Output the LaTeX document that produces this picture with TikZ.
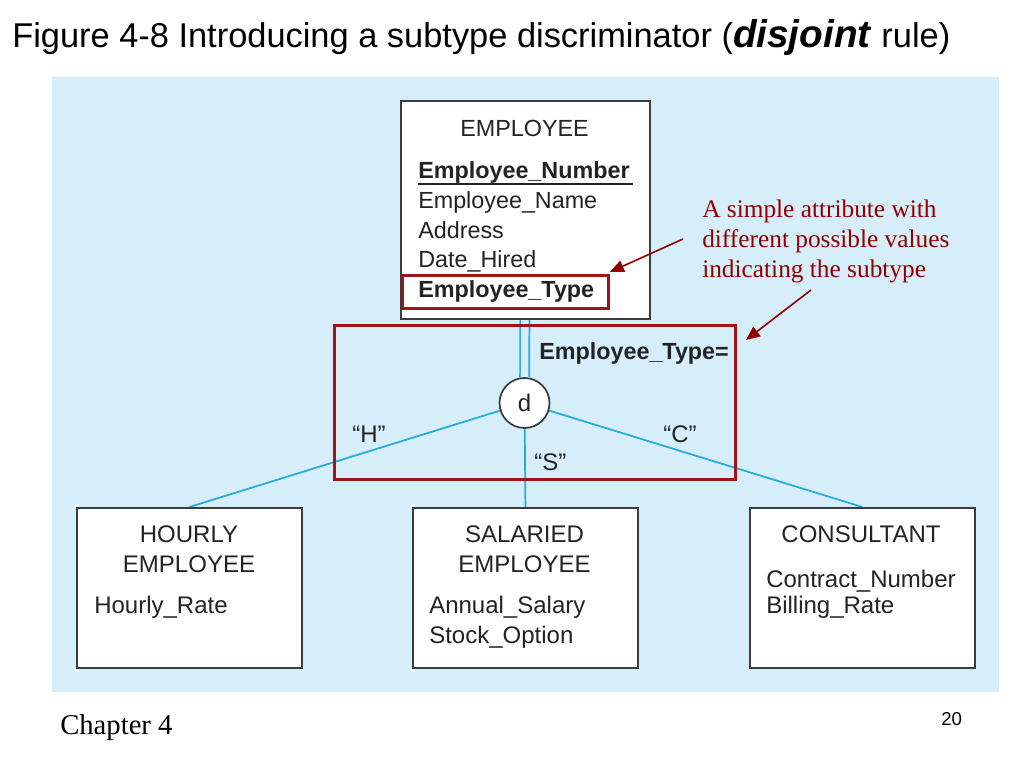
\documentclass[tikz,border=0pt]{standalone}
\usepackage{fontspec}
\setmainfont{Liberation Serif}
\setsansfont{Liberation Sans}
\usetikzlibrary{arrows.meta}
\definecolor{bgblue}{RGB}{214,238,250}
\definecolor{lineblue}{RGB}{35,170,225}
\definecolor{darkred}{RGB}{160,20,25}
\definecolor{annred}{RGB}{145,0,0}
\definecolor{boxgray}{RGB}{60,60,60}
\definecolor{txtgray}{RGB}{35,35,35}
\pgfdeclarelayer{back}
\pgfdeclarelayer{links}
\pgfsetlayers{back,links,main}
\begin{document}
\begin{tikzpicture}[x=0.75pt,y=-0.75pt,
  ent/.style={draw=boxgray, line width=1.4pt, fill=white, anchor=north west, inner sep=0pt},
  subent/.style={ent, minimum width=168.75pt, minimum height=120pt},
  attr/.style={anchor=base west, inner sep=0pt, text=txtgray, font=\sffamily\fontsize{17.5}{20}\selectfont},
  attrb/.style={attr, font=\sffamily\bfseries\fontsize{17.5}{20}\selectfont},
  ename/.style={anchor=base, inner sep=0pt, text=txtgray, font=\sffamily\fontsize{17.5}{20}\selectfont},
  sattr/.style={anchor=base west, inner sep=0pt, text=txtgray, font=\sffamily\fontsize{18}{20}\selectfont},
  sname/.style={anchor=base, inner sep=0pt, text=txtgray, font=\sffamily\fontsize{18}{20}\selectfont},
  redbox/.style={draw=darkred, line width=2.2pt, anchor=north west, inner sep=0pt},
  link/.style={draw=lineblue, line width=1.3pt},
  note/.style={anchor=base west, inner sep=0pt, text=annred, font=\rmfamily\fontsize{19}{22}\selectfont},
  notearrow/.style={draw=annred, line width=1.2pt, -{Triangle[length=10.5pt,width=9pt]}}
]
\useasboundingbox (0,0) rectangle (1024,768);
\begin{pgfonlayer}{back}
  \fill[white] (0,0) rectangle (1024,768);
  \fill[bgblue] (52,77) rectangle (999,692);
\end{pgfonlayer}

% title
\node[anchor=base west, inner sep=0pt, font=\sffamily\fontsize{25.8}{30}\selectfont] (title) at (12,47)
  {Figure 4-8 Introducing a subtype discriminator (\textbf{\textit{\fontsize{29}{30}\selectfont disjoint}} rule)};

% supertype
\node[ent, minimum width=186.75pt, minimum height=163.5pt] (emp) at (400,100) {};
\node[ename] (empname) at (524.5,136) {EMPLOYEE};
\node[attrb] (enum) at (418,178) {Employee\_Number};
\draw[txtgray, line width=1pt] (enum.south west |- 0,184) coordinate (ul1) -- (633,184) coordinate (ul2);
\node[attr] (ename2) at (418,208) {Employee\_Name};
\node[attr] (eaddr) at (418,238) {Address};
\node[attr] (edate) at (418,267) {Date\_Hired};
\node[attrb] (etype) at (418,297) {Employee\_Type};
\node[redbox, minimum width=154.5pt, minimum height=24.75pt] (typebox) at (401,274) {};

% discriminator
\node[circle, draw=boxgray, line width=1.3pt, fill=white, minimum size=37.5pt, inner sep=0pt,
      font=\sffamily\fontsize{18}{20}\selectfont, text=txtgray] (d) at (524.5,403) {d};
\node[attrb] (disc) at (539,359) {Employee\_Type=};
\node[redbox, minimum width=300.75pt, minimum height=115.5pt] (discbox) at (333,324) {};
\node[attr, font=\sffamily\fontsize{18}{20}\selectfont] (qh) at (352,442) {“H”};
\node[attr, font=\sffamily\fontsize{18}{20}\selectfont] (qs) at (534,470) {“S”};
\node[attr, font=\sffamily\fontsize{18}{20}\selectfont] (qc) at (663,442) {“C”};

% subtypes
\node[subent] (hourly) at (76,507) {};
\node[sname] (h1) at (189,542) {HOURLY};
\node[sname] (h2) at (189,572) {EMPLOYEE};
\node[sattr] (h3) at (94,613) {Hourly\_Rate};

\node[subent] (salaried) at (412,507) {};
\node[sname] (s1) at (524.5,542) {SALARIED};
\node[sname] (s2) at (524.5,572) {EMPLOYEE};
\node[sattr] (s3) at (429,613) {Annual\_Salary};
\node[sattr] (s4) at (429,643) {Stock\_Option};

\node[subent] (consultant) at (749,507) {};
\node[sname] (c1) at (861,542) {CONSULTANT};
\node[sattr] (c2) at (766,587) {Contract\_Number};
\node[sattr] (c3) at (766,613) {Billing\_Rate};

% connectors
\begin{pgfonlayer}{links}
  \draw[link, double=bgblue, double distance=5.5pt] (emp) -- (d);
  \draw[link] (d) -- (hourly.north);
  \draw[link] (d) -- (salaried.north);
  \draw[link] (d) -- (consultant.north);
\end{pgfonlayer}

% annotation
\node[note] (n1) at (702,217) {A simple attribute with};
\node[note] (n2) at (702,247) {different possible values};
\node[note] (n3) at (702,277) {indicating the subtype};
\coordinate (a1) at (683,239);
\coordinate (a2) at (811,290);
\draw[notearrow] (a1) -- ([shift={(0,-2)}]typebox.north east);
\draw[notearrow] (a2) -- ([shift={(9,16)}]discbox.north east);

% footer
\node[anchor=base west, inner sep=0pt, font=\rmfamily\fontsize{21.5}{26}\selectfont] (chap) at (60,734) {Chapter 4};
\node[anchor=base west, inner sep=0pt, font=\sffamily\fontsize{14}{16}\selectfont] (pnum) at (941,725) {20};
\end{tikzpicture}
\end{document}
